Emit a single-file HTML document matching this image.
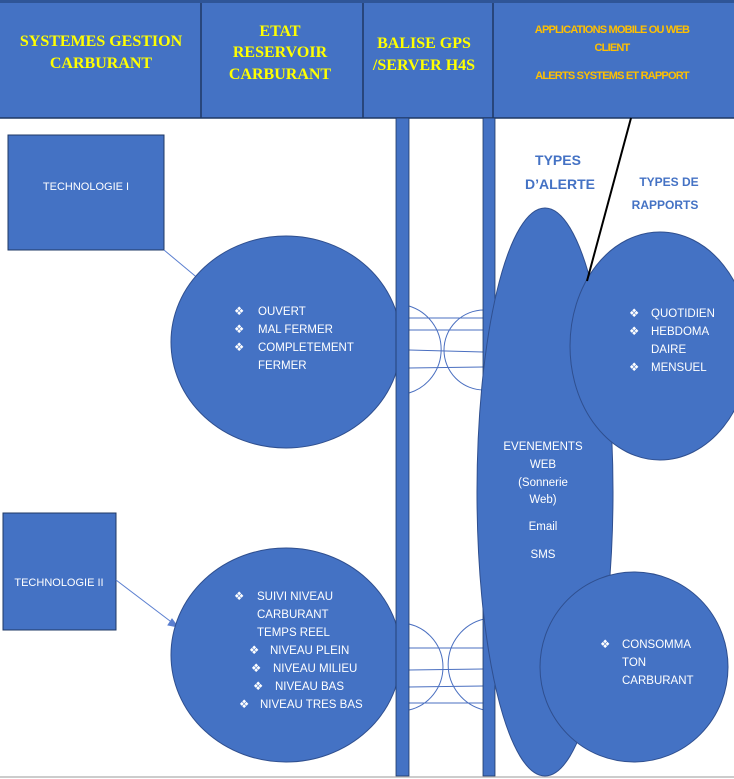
<!DOCTYPE html>
<html><head><meta charset="utf-8"><style>
html,body{margin:0;padding:0;background:#fff;}
svg{display:block}
.s{font-family:"Liberation Sans",sans-serif;font-size:11.5px;fill:#fff}
.h{font-family:"Liberation Serif",serif;font-weight:bold;font-size:16px;fill:#ffff00}
.o{font-family:"Liberation Sans",sans-serif;font-weight:bold;font-size:11px;fill:#ffc000;letter-spacing:-0.8px}
.b{font-family:"Liberation Sans",sans-serif;font-weight:bold;fill:#4472c4}
</style></head><body>
<svg width="734" height="779" viewBox="0 0 734 779">
<rect x="0" y="0" width="734" height="118" fill="#4472c4"/>
<rect x="0" y="0" width="734" height="3" fill="#2f5597"/>
<line x1="0" y1="118" x2="734" y2="118" stroke="#1f3864" stroke-width="1.5"/>
<g stroke="#1f3864" stroke-width="1.5"><line x1="201" y1="3" x2="201" y2="118"/><line x1="363" y1="3" x2="363" y2="118"/><line x1="493" y1="3" x2="493" y2="118"/></g>
<text class="h" text-anchor="middle"><tspan x="101" y="46">SYSTEMES GESTION</tspan><tspan x="101" y="68">CARBURANT</tspan></text>
<text class="h" text-anchor="middle"><tspan x="280" y="36">ETAT</tspan><tspan x="280" y="57">RESERVOIR</tspan><tspan x="280" y="79">CARBURANT</tspan></text>
<text class="h" text-anchor="middle"><tspan x="424" y="48">BALISE GPS</tspan><tspan x="424" y="70">/SERVER H4S</tspan></text>
<text class="o" text-anchor="middle"><tspan x="612" y="33">APPLICATIONS MOBILE OU WEB</tspan><tspan x="612" y="51">CLIENT</tspan><tspan x="612" y="79">ALERTS SYSTEMS ET RAPPORT</tspan></text>
<line x1="0" y1="777" x2="734" y2="777" stroke="#bbb" stroke-width="1.5"/>
<!-- connectors -->
<g stroke="#4a6fc0" stroke-width="1" fill="none">
<path d="M409 306 A45.5 45.5 0 0 1 409 393"/><path d="M484 310 A40 40 0 0 0 484 390"/>
<line x1="409" y1="318" x2="483" y2="318"/><line x1="409" y1="330" x2="483" y2="330"/><line x1="409" y1="350" x2="483" y2="352"/><line x1="409" y1="368" x2="483" y2="367"/>
<path d="M409 624 A44.2 44.2 0 0 1 409 710"/><path d="M484 619 A46.8 46.8 0 0 0 484 710"/>
<line x1="409" y1="648" x2="483" y2="648"/><line x1="409" y1="670" x2="483" y2="669"/><line x1="409" y1="687" x2="483" y2="686"/><line x1="409" y1="703" x2="483" y2="703"/>
</g>
<!-- boxes -->
<rect x="8" y="135" width="156" height="115" fill="#4472c4" stroke="#1f3864"/>
<text class="s" x="86" y="190" text-anchor="middle" style="font-size:11px">TECHNOLOGIE I</text>
<rect x="3" y="513" width="113" height="117" fill="#4472c4" stroke="#1f3864"/>
<text class="s" x="59" y="586" text-anchor="middle" style="font-size:11px">TECHNOLOGIE II</text>
<g stroke="#5b7fd0" stroke-width="1" fill="#5b7fd0"><line x1="164" y1="250" x2="200" y2="280"/><path d="M204 283 L194 280 L198 275 Z"/>
<line x1="116" y1="580" x2="174" y2="624"/><path d="M178 627 L168 625 L172 619 Z"/></g>
<!-- circles -->
<g fill="#4472c4" stroke="#2f4f8f" stroke-width="1">
<ellipse cx="286" cy="342" rx="115" ry="106"/>
<ellipse cx="286" cy="655" rx="115" ry="107"/>
</g>
<rect x="396" y="118" width="13" height="658" fill="#4472c4" stroke="#1f3864" stroke-width="0.8"/>
<rect x="483" y="118" width="12" height="658" fill="#4472c4" stroke="#1f3864" stroke-width="0.8"/>
<g fill="#4472c4" stroke="#2f4f8f" stroke-width="1">
<ellipse cx="545" cy="492" rx="68" ry="284"/>
<ellipse cx="660" cy="346" rx="90" ry="114"/>
<ellipse cx="634" cy="667" rx="94" ry="95"/>
</g>
<line x1="631" y1="118" x2="587" y2="281" stroke="#000" stroke-width="2"/>
<text class="b" x="558" y="165" text-anchor="middle" font-size="14">TYPES</text>
<text class="b" x="560" y="189" text-anchor="middle" font-size="14">D’ALERTE</text>
<text class="b" x="669" y="186" text-anchor="middle" font-size="12">TYPES DE</text>
<text class="b" x="665" y="209" text-anchor="middle" font-size="12">RAPPORTS</text>
<text class="s"><tspan x="234" y="315">❖</tspan><tspan x="258" y="315">OUVERT</tspan><tspan x="234" y="333">❖</tspan><tspan x="258" y="333">MAL FERMER</tspan><tspan x="234" y="351">❖</tspan><tspan x="258" y="351">COMPLETEMENT</tspan><tspan x="258" y="369">FERMER</tspan></text>
<text class="s"><tspan x="234" y="600">❖</tspan><tspan x="257" y="600">SUIVI NIVEAU</tspan><tspan x="257" y="618">CARBURANT</tspan><tspan x="257" y="636">TEMPS REEL</tspan><tspan x="249" y="654">❖</tspan><tspan x="270" y="654">NIVEAU PLEIN</tspan><tspan x="251" y="672">❖</tspan><tspan x="273" y="672">NIVEAU MILIEU</tspan><tspan x="253" y="690">❖</tspan><tspan x="275" y="690">NIVEAU BAS</tspan><tspan x="239" y="708">❖</tspan><tspan x="260" y="708">NIVEAU TRES BAS</tspan></text>
<text class="s" text-anchor="middle"><tspan x="543" y="450">EVENEMENTS</tspan><tspan x="543" y="468">WEB</tspan><tspan x="543" y="486">(Sonnerie</tspan><tspan x="543" y="503">Web)</tspan><tspan x="543" y="530">Email</tspan><tspan x="543" y="558">SMS</tspan></text>
<text class="s"><tspan x="629" y="317">❖</tspan><tspan x="651" y="317">QUOTIDIEN</tspan><tspan x="629" y="335">❖</tspan><tspan x="651" y="335">HEBDOMA</tspan><tspan x="651" y="353">DAIRE</tspan><tspan x="629" y="371">❖</tspan><tspan x="651" y="371">MENSUEL</tspan></text>
<text class="s"><tspan x="600" y="648">❖</tspan><tspan x="622" y="648">CONSOMMA</tspan><tspan x="622" y="666">TON</tspan><tspan x="622" y="684">CARBURANT</tspan></text>
</svg>
</body></html>
